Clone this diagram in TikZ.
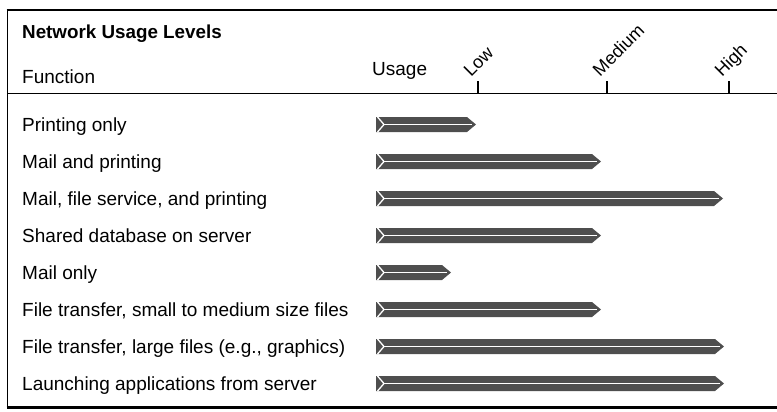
\documentclass[tikz,border=0pt]{standalone}
\usepackage{fontspec}
\setmainfont{Liberation Sans}
\begin{document}
\begin{tikzpicture}[x=1bp,y=-1bp,
  txt/.style={inner sep=0pt,anchor=base west,font=\fontsize{19bp}{22bp}\selectfont},
  lvl/.style={inner sep=0pt,anchor=base west,rotate=45,font=\fontsize{18bp}{20bp}\selectfont},
  rule/.style={line width=#1,black},
  barfill/.style={fill={rgb,255:red,78;green,78;blue,78}},
  barline/.style={white,line width=1.3bp}]
\useasboundingbox (0,0) rectangle (777,411);
% frame
\draw[rule=2bp] (6.5,9.5) -- (777,9.5);
\draw[rule=1.8bp] (7.5,9) -- (7.5,407);
\draw[rule=3bp] (6.5,407) -- (777,407);
\draw[rule=1.2bp] (7.5,93.5) -- (777,93.5);
% header
\node[txt,font=\bfseries\fontsize{18.8bp}{22bp}\selectfont] (title) at (22,38) {Network Usage Levels};
\node[txt] (function) at (22,83) {Function};
\node[txt] (usage) at (372,75) {Usage};
\foreach \tx/\nm/\lb in {478/low/Low,607/medium/Medium,729/high/High}{
  \draw[rule=1.2bp] (\tx,81) -- (\tx,93.5);
  \node[lvl] (\nm) at (\tx-7,77.5) {\lb};
}
% rows
\foreach \i/\lab/\xe in {
  0/Printing only/476,
  1/Mail and printing/601,
  2/{Mail, file service, and printing}/723,
  3/Shared database on server/601,
  4/Mail only/451,
  5/{File transfer, small to medium size files}/601,
  6/{File transfer, large files (e.g., graphics)}/724,
  7/Launching applications from server/724}{
  \pgfmathsetmacro{\yc}{124.5+37*\i}
  \node[txt] (row\i) at (22,\yc+7) {\lab};
  \fill[barfill] (376,\yc-7.5) -- (\xe-9,\yc-7.5) -- (\xe,\yc) -- (\xe-9,\yc+7.5) -- (376,\yc+7.5) -- cycle;
  \draw[barline] (377.5,\yc-7.5) -- (384,\yc) -- (377.5,\yc+7.5);
  \draw[barline,line width=1.1bp] (384,\yc) -- (\xe-4,\yc);
}
\end{tikzpicture}
\end{document}
